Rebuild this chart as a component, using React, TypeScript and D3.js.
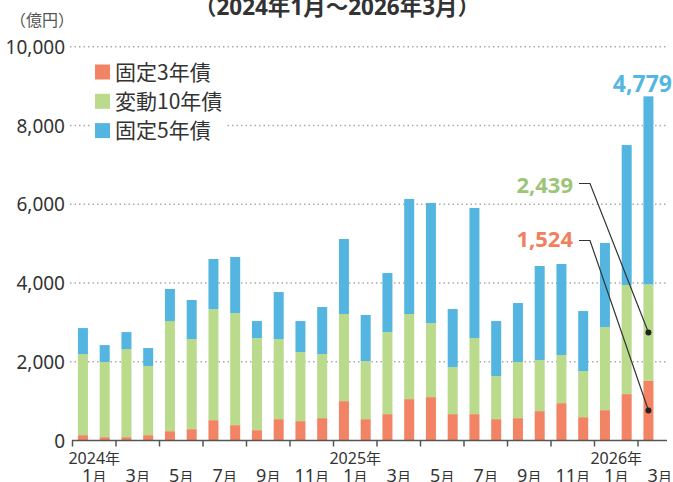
import * as d3 from 'd3';

const months: string[] = [
  '2024-01', '2024-02', '2024-03', '2024-04', '2024-05', '2024-06', '2024-07', '2024-08', '2024-09',
  '2024-10', '2024-11', '2024-12', '2025-01', '2025-02', '2025-03', '2025-04', '2025-05', '2025-06',
  '2025-07', '2025-08', '2025-09', '2025-10', '2025-11', '2025-12', '2026-01', '2026-02', '2026-03',
];

// 固定3年債
const fixed3: number[] = [
  136, 85, 85, 136, 237, 288, 517, 390, 263, 542, 492, 568, 1000, 542,
  670, 1051, 1102, 670, 670, 542, 568, 746, 949, 593, 771, 1178, 1524,
];
// 変動10年債
const floating10: number[] = [
  2059, 1907, 2237, 1754, 2797, 2288, 2822, 2847, 2339, 2034, 1754, 1627, 2212, 1475,
  2084, 2161, 1881, 1195, 1932, 1094, 1424, 1296, 1221, 1170, 2111, 2771, 2439,
];
// 固定5年債
const fixed5: number[] = [
  661, 432, 432, 458, 814, 992, 1271, 1424, 432, 1195, 788, 1195, 1907, 1170,
  1500, 2924, 3051, 1474, 3305, 1398, 1500, 2390, 2313, 1525, 2135, 3555, 4779,
];

const seriesNames = ['固定3年債', '変動10年債', '固定5年債'];
const seriesColors = ['#F38365', '#BADA8C', '#54B6E0'];
const labelColors = ['#F0805E', '#9DC57A', '#55B7E1'];
const yTicks = [0, 2000, 4000, 6000, 8000, 10000];

const WIDTH = 673;
const HEIGHT = 482;
const FONT = "'Noto Sans', 'Noto Sans CJK JP', sans-serif";
const CJK = "'Noto Sans CJK JP', 'Noto Sans', sans-serif";

export default function App() {
  const y = d3.scaleLinear().domain([0, 10000]).range([440.5, 46.8]);
  const x = d3.scaleBand<string>().domain(months).range([72.5, 72.5 + 27 * 21.75]).padding(0);
  const step = x.step();
  const barW = x.bandwidth() * 0.46;
  const barOff = x.bandwidth() * 0.25;

  const rows = months.map((m, i) => ({ m, fixed3: fixed3[i], floating10: floating10[i], fixed5: fixed5[i] }));
  const stack = d3.stack<(typeof rows)[number]>().keys(['fixed3', 'floating10', 'fixed5']);
  const layers = stack(rows);

  const last = months.length - 1;
  const lastX = (x(months[last]) ?? 0) + barOff + barW / 2;
  const redMid = y(fixed3[last] / 2);
  const greenMid = y(fixed3[last] + floating10[last] / 2);
  const total = fixed3[last] + floating10[last] + fixed5[last];

  const fmt = d3.format(',');
  const tickIdx = months.map((_, i) => i).filter((i) => i % 2 === 0);

  return (
    <svg width={WIDTH} height={HEIGHT} style={{ position: 'absolute', left: 0, top: 0, background: '#fff' }}>
      <text x={337} y={15} textAnchor="middle" fontFamily={FONT} fontWeight={700} fontSize={22.5} fill="#333">
        （2024年1月～2026年3月）
      </text>
      <text x={10} y={26} fontFamily={CJK} fontSize={16} fill="#555">（億円）</text>

      {yTicks.map((t) => (
        <g key={t}>
          {t > 0 && (
            <line x1={70} x2={667} y1={y(t)} y2={y(t)} stroke="#aaa" strokeWidth={1.5} strokeDasharray="1.5 3" />
          )}
          <text x={65} y={y(t) + 7} textAnchor="end" fontFamily={FONT} fontSize={19} fill="#333">
            {fmt(t)}
          </text>
        </g>
      ))}

      <g>
        <rect x={90} y={60} width={135} height={82} fill="#fff" />
        {seriesNames.map((name, i) => (
          <g key={name} transform={`translate(95, ${64.5 + i * 29.3})`}>
            <rect width={15} height={15} fill={seriesColors[i]} />
            <text x={20} y={15} fontFamily={CJK} fontSize={21} fill="#333">{name}</text>
          </g>
        ))}
      </g>

      {layers.map((layer, li) => (
        <g key={layer.key} fill={seriesColors[li]}>
          {layer.map((d) => (
            <rect
              key={d.data.m}
              x={(x(d.data.m) ?? 0) + barOff}
              width={barW}
              y={y(d[1])}
              height={y(d[0]) - y(d[1])}
            />
          ))}
        </g>
      ))}

      <line x1={72} x2={667} y1={y(0)} y2={y(0)} stroke="#555" strokeWidth={1.5} />
      {tickIdx.map((i) => {
        const tx = x(months[i]) ?? 0;
        const [yr, mo] = months[i].split('-');
        const lx = tx + step;
        return (
          <g key={i}>
            <line x1={tx} x2={tx} y1={y(0)} y2={y(0) + 6} stroke="#555" strokeWidth={1.5} />
            {mo === '01' && (
              <text x={lx} y={464} textAnchor="middle" fontFamily={FONT} fontSize={16} fill="#333">
                {yr}<tspan fontFamily={CJK} fontSize={15}>年</tspan>
              </text>
            )}
            <text x={lx} y={482} textAnchor="middle" fontFamily={FONT} fontSize={18} fill="#333">
              {+mo}<tspan fontFamily={CJK} fontSize={14}>月</tspan>
            </text>
          </g>
        );
      })}

      <text x={672} y={y(total) - 4} textAnchor="end" fontFamily={FONT} fontWeight={700} fontSize={23} fill={labelColors[2]}>
        {fmt(fixed5[last])}
      </text>
      <text x={573} y={193} textAnchor="end" fontFamily={FONT} fontWeight={700} fontSize={22} fill={labelColors[1]}>
        {fmt(floating10[last])}
      </text>
      <text x={573} y={247} textAnchor="end" fontFamily={FONT} fontWeight={700} fontSize={22} fill={labelColors[0]}>
        {fmt(fixed3[last])}
      </text>
      <polyline points={`579,183.5 590,183.5 ${lastX},${greenMid}`} fill="none" stroke="#333" strokeWidth={1.2} />
      <polyline points={`579,240.5 590,240.5 ${lastX},${redMid}`} fill="none" stroke="#333" strokeWidth={1.2} />
      <circle cx={lastX} cy={greenMid} r={3} fill="#222" />
      <circle cx={lastX} cy={redMid} r={3} fill="#222" />
    </svg>
  );
}
